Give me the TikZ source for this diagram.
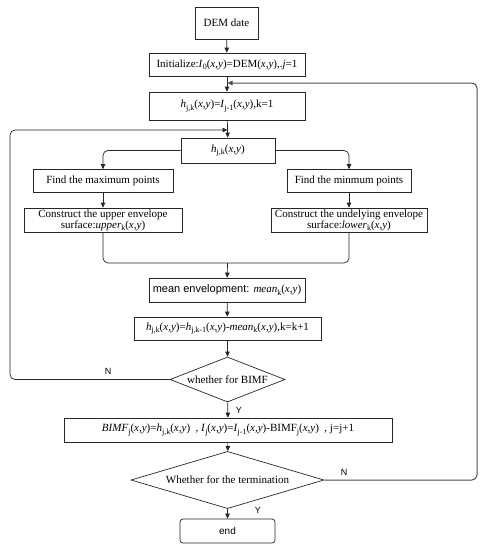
\documentclass[tikz,border=0pt]{standalone}
\usepackage{fontspec}
\setmainfont{Liberation Serif}
\setsansfont{Liberation Sans}
\usetikzlibrary{arrows.meta,shapes.geometric}
\newcommand{\xy}{(\textit{x,y})}
\newcommand{\sbs}[1]{\raisebox{-0.45ex}{\fontsize{8}{8}\selectfont #1}}
\begin{document}
\begin{tikzpicture}[x=1pt,y=-1pt,
  font=\fontsize{11}{11}\selectfont,
  line width=0.7pt,
  box/.style={draw=black!85, inner sep=1pt, align=center, minimum width=#1},
  dia/.style={draw=black!85, diamond, aspect=2.5, inner sep=0pt, minimum width=#1},
  conn/.style={draw=black!85, -{Triangle[length=5pt,width=4.5pt]}},
  lbl/.style={font=\sffamily\fontsize{9}{10}\selectfont}]
\useasboundingbox (0,0) rectangle (488,550);
\node[box=63, minimum height=32] (dem) at (226.5,23) {DEM date};
\node[box=156, minimum height=23] (init) at (227,64.5) {Initialize:\textit{I}\sbs{0}\xy=DEM\xy,.\textit{j}=1};
\node[box=156, minimum height=28] (h1) at (227,106) {\textit{h}\sbs{j,k}\xy=\textit{I}\sbs{j-1}\xy,k=1};
\node[box=94, minimum height=25] (hjk) at (228,150.5) {\textit{h}\sbs{j,k}\xy};
\node[box=140, minimum height=23] (fmax) at (103,181) {Find the maximum points};
\node[box=124, minimum height=23] (fmin) at (349,181) {Find the minmum points};
\node[box=158, minimum height=24] (cup) at (103,220) {Construct the upper envelope\\surface:\textit{upper}\sbs{k}\xy};
\node[box=156, minimum height=24] (clow) at (349,220) {Construct the undelying envelope\\surface:\textit{lower}\sbs{k}\xy};
\node[box=156, minimum height=24] (mean) at (227,290) {\textsf{mean envelopment: }\textit{mean}\sbs{k}\xy};
\node[box=187, minimum height=23] (hupd) at (227.5,328.5) {\textit{h}\sbs{j,k}\xy=\textit{h}\sbs{j,k-1}\xy-\textit{mean}\sbs{k}\xy,k=k+1};
\node[dia=115, minimum height=45] (bq) at (227.5,379.5) {whether for BIMF};
\node[box=328, minimum height=24] (bimf) at (228,430) {\textit{BIMF}\sbs{j}\xy=\textit{h}\sbs{j,k}\xy~~,~\textit{I}\sbs{j}\xy=\textit{I}\sbs{j-1}\xy-BIMF\sbs{j}\xy~~,~j=j+1};
\node[dia=193, minimum height=46] (term) at (227.5,480) {Whether for the termination};
\node[box=95, minimum height=24, rounded corners=3pt, font=\sffamily\fontsize{10}{11}\selectfont] (endb) at (227.5,531) {end};
\coordinate (fbR) at (227.5,83);
\coordinate (fbL) at (227.5,130);
\coordinate (merge) at (227.5,263);
\draw[conn] (dem) -- (init);
\draw[conn] (init) -- (h1);
\draw[conn] (h1) -- (hjk);
\draw[conn, rounded corners=5pt] (hjk.west) -| (fmax.north);
\draw[conn, rounded corners=5pt] (hjk.east) -| (fmin.north);
\draw[conn] (fmax) -- (cup);
\draw[conn] (fmin) -- (clow);
\draw[draw=black!85, rounded corners=5pt] (cup.south) -- (cup.south |- merge) -- (clow.south |- merge) -- (clow.south);
\draw[conn] (merge) -- (mean);
\draw[conn] (mean) -- (hupd);
\draw[conn] (hupd) -- (bq);
\draw[conn] (bq) -- (bimf);
\draw[conn] (bimf) -- (term);
\draw[conn] (term) -- (endb);
\draw[conn, rounded corners=5pt] (bq.west) -- (10,379.5) -- (10,130) -- (fbL);
\draw[conn, rounded corners=5pt, draw=black!70, line width=1pt] (term.east) -- (477,480) -- (477,83) -- (fbR);
\node[lbl] (nL) at (108,371) {N};
\node[lbl] (yA) at (239,410) {Y};
\node[lbl] (nR) at (344,472) {N};
\node[lbl] (yB) at (258,510) {Y};
\end{tikzpicture}
\end{document}
